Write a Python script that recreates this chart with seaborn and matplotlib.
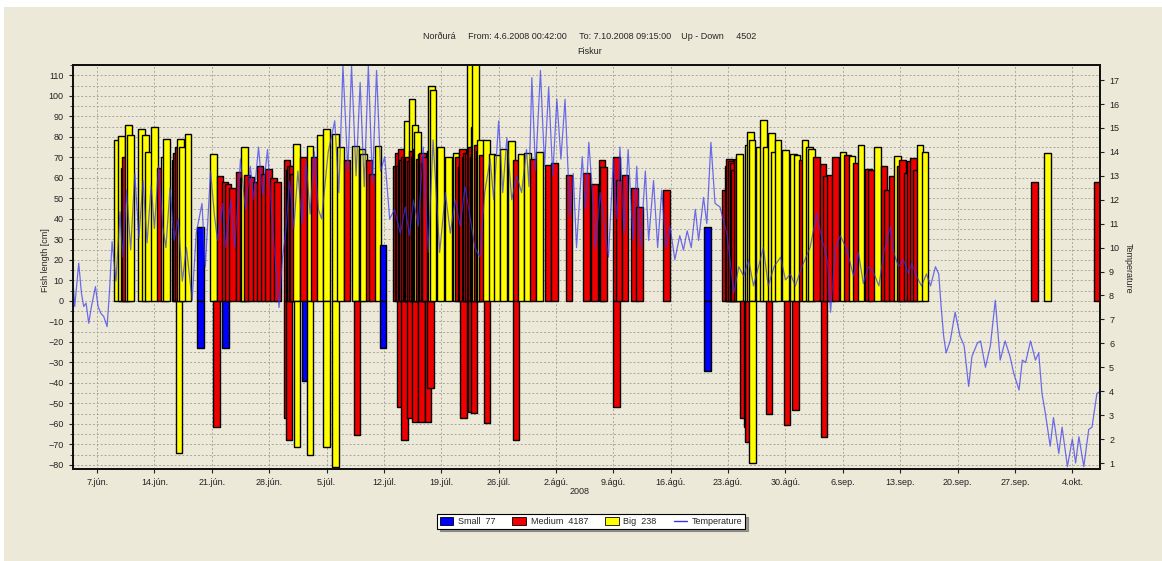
import pandas as pd
import matplotlib
matplotlib.use("Agg")
import matplotlib.pyplot as plt
import matplotlib.ticker as mticker
from matplotlib.patches import Patch, Rectangle
from matplotlib.lines import Line2D
import seaborn as sns

# dagar frá 1. júní 2008, lengd í cm (neikvætt = niður)
start = pd.Timestamp("2008-06-01")

small_day = [18.6, 18.6, 21.7, 31.4, 40.9, 40.9, 80.5, 80.5]
small_len = [36, -23, -23, -39, 27, -23, 36, -34]

medium_day = [9.3, 13.7, 15.5, 15.9, 21.0, 21.6, 22.5, 23.3, 24.3, 24.8, 25.9, 26.9, 28.0, 29.2, 29.6, 31.2, 32.5,
              36.5, 39.2, 39.6, 42.5, 43.3, 43.7, 44.0, 45.9, 50.4, 50.9, 51.1, 57.1, 59.2, 61.0, 61.8, 63.6, 65.7,
              66.7, 67.6, 67.8, 69.4, 69.7, 70.4, 71.6, 72.2, 75.5, 82.6, 83.2, 83.6, 92.0, 93.8, 94.6, 95.0, 95.5, 96.1, 97.6,
              98.6, 100.1, 100.5, 102.0, 102.4, 103.0, 104.3, 104.8, 105.6, 120.4, 128.0,
              # þéttu svæðin
              9.5, 15.7, 22.0, 23.8, 25.4, 26.4, 27.5, 29.4, 29.8, 30.0, 42.7, 42.9, 43.1, 43.5, 43.9, 44.2, 44.5,
              44.7, 45.0, 45.3, 45.7, 46.1, 46.6, 50.1, 50.6, 51.0, 51.3, 51.7, 51.9, 52.4, 52.6, 53.0,
              83.0, 83.4, 83.8, 84.1, 104.0, 105.2, 105.9,
              # niður
              20.6, 29.2, 29.4, 37.7, 43.0, 43.5, 44.2, 44.8, 45.6, 46.4, 46.7, 50.7, 51.7, 52.0, 53.6, 57.1,
              69.4, 84.9, 85.3, 85.5, 88.0, 90.2, 91.2, 94.7]
medium_len = [65, 65, 68.6, 75, 60.8, 58, 54.8, 62.9, 61.3, 60.4, 65.7, 64.5, 58, 68.6, 66, 70.2, 70.2,
              68.6, 68.6, 62, 65.7, 68.6, 69, 70, 67, 65.3, 70, 72, 68.6, 69.4, 66.1, 67, 61.3, 62.4,
              57.2, 68.6, 65.3, 70.2, 58.8, 61.3, 54.8, 45.8, 54, 54, 69.1, 67, 68.6, 70.2, 66.6, 60.8, 61.3, 70.2, 71,
              67, 64.5, 63.7, 65.7, 54, 60.8, 68.6, 62.1, 69.9, 58, 58,
              70, 72, 57, 60, 58, 62, 60, 64, 66, 62, 72, 66, 74, 70, 75, 68, 73,
              70, 74, 69, 72, 70, 73, 70, 74, 68, 72, 75, 70, 76, 73, 71,
              66, 68, 64, 69, 66, 68, 64,
              -61.4, -57.3, -67.8, -65.4, -51.6, -67.8, -57.3, -58.9, -58.9, -58.9, -42.7, -57.3, -54, -54.8, -59.4, -67.8,
              -51.6, -57.3, -61.4, -68.6, -55.2, -60.5, -53.2, -66.5]

big_day = [8.5, 9.0, 9.8, 10.1, 11.4, 11.9, 12.3, 13.0, 14.2, 14.5, 16.2, 16.4, 17.1, 20.2, 24.0, 30.3, 32.0, 33.2, 34.0,
           35.1, 35.7, 37.5, 38.3, 38.5, 40.3, 43.9, 44.4, 44.8, 45.1, 45.5, 46.8, 47.0, 47.9, 48.9, 49.8, 51.5, 52.0,
           52.2, 52.8, 53.5, 54.2, 54.8, 55.6, 56.6, 57.7, 58.5, 60.0,
           84.4, 85.5, 85.7, 85.9, 86.8, 87.3, 87.7, 88.3, 88.6, 89.1, 90.0, 91.0, 91.4, 92.4, 92.9, 93.2, 97.0,
           98.1, 99.2, 101.2, 103.7, 106.4, 107.0, 122.0,
           16.0, 30.4, 32.0, 34.0, 35.1, 86.0]
big_len = [78.6, 80.3, 85.6, 80.8, 84, 80.8, 72.6, 84.8, 70.2, 78.8, 78.8, 74.8, 81.6, 71.8, 74.8, 76.7, 75.4, 80.8, 84,
           81.6, 74.8, 75.4, 74.2, 71.8, 75.4, 87.6, 98.6, 85.6, 82.4, 71.8, 104.6, 102.7, 74.8, 70.2, 72.2, 116, 84.8,
           116, 78.3, 78.6, 71.8, 71, 74.2, 77.8, 71.8, 72.2, 72.6,
           71.8, 75.9, 82.4, 78.3, 74.8, 88.1, 75.1, 81.9, 72.6, 78.3, 73.8, 71.8, 71, 78.3, 75.1, 74.2, 72.6,
           70.5, 75.9, 74.8, 70.5, 75.9, 72.6, 72.2,
           -74.3, -71.4, -75.1, -71.1, -80.8, -78.9]

temp_day = [3.05, 3.27, 3.76, 4.09, 4.37, 4.66, 4.98, 5.31, 5.8, 6.12, 6.45, 6.81, 7.22, 7.5, 7.83, 8.3, 8.8, 9.1,
            9.6, 10.1, 10.6, 11.1, 11.6, 12.1, 12.6, 13.0, 13.5, 14.0, 14.4, 14.9, 15.4, 15.9, 16.4, 16.9, 17.6, 18.1,
            18.8, 19.2, 19.85, 20.3, 20.7, 21.3, 21.7, 22.3, 22.8, 23.5, 24.1, 24.7, 25.1, 25.7, 26.2, 26.8, 27.4, 28.2,
            28.6, 29.0, 29.5, 30.0, 30.5, 31.0, 31.5, 32.0, 32.5, 33.0, 33.4, 34.2, 35.0, 35.5, 36.0, 36.6, 37.05, 37.6,
            38.1, 38.6, 39.1, 39.6, 40.1, 40.6, 41.1, 41.7, 42.3, 43.0, 43.6, 44.1, 44.6, 45.2, 45.8, 46.4, 47.0, 47.8,
            48.5, 49.1, 49.7, 50.3, 50.9, 51.5, 52.1, 52.7, 53.3, 53.96, 54.4, 55.0, 55.5, 56.0, 56.6, 57.2, 57.8, 58.4,
            58.7, 59.05, 59.5, 60.1, 60.6, 61.1, 61.6, 62.1, 62.6, 63.1, 63.7, 64.1, 64.5, 65.2, 65.6, 66.0, 66.5, 66.8,
            67.4, 68.4, 69.0, 69.4, 69.8, 70.3, 70.8, 71.4, 71.85, 72.3, 72.9, 73.3, 73.9, 74.4, 74.9, 75.4, 75.9, 76.5,
            77.1, 77.55, 78.0, 78.5, 79.0, 79.4, 80.0, 80.4, 80.9, 81.4, 82.0, 82.85, 83.7, 84.3, 84.9, 85.5, 86.1, 86.7,
            87.3, 87.9, 88.6, 89.4, 90.0, 90.6, 91.2, 92.0, 93.0, 93.8, 94.5, 95.1, 95.5, 96.1, 96.7, 97.5, 98.3, 98.9,
            99.5, 100.1, 100.7, 101.4, 102.0, 102.8, 103.2, 103.8, 104.4, 105.0, 105.4, 106.0, 106.6, 107.2, 107.7, 108.3,
            108.7, 109.0, 109.3, 109.6, 110.1, 110.7, 111.3, 111.8, 112.35, 112.75, 113.4, 113.8, 114.4, 115.0, 115.6,
            116.2, 116.8, 117.4, 117.85, 118.5, 118.9, 119.3, 119.9, 120.5, 120.9, 121.3, 121.7, 122.3, 122.7, 123.35,
            123.75, 124.4, 125.0, 125.4, 125.8, 126.4, 127.0, 127.4, 128.0, 128.4]
temp_val = [8.65, 7.54, 9.35, 8.1, 7.54, 7.68, 6.84, 7.54, 8.37, 7.54, 7.26, 7.12, 6.7, 8.1, 10.25, 8.6, 11.5, 9.6,
            12.4, 9.9, 13.1, 10.4, 12.8, 10.2, 12.6, 10.8, 13.4, 10.9, 10.0, 12.5, 10.3, 11.2, 8.6, 10.0, 7.8, 10.6,
            11.85, 9.2, 13.2, 11.4, 10.3, 11.85, 10.0, 12.0, 10.0, 13.7, 11.6, 13.4, 12.0, 14.2, 12.2, 14.1, 10.9, 7.5,
            9.5, 10.6, 12.8, 10.8, 13.2, 11.0, 13.6, 11.4, 14.0, 11.6, 11.2, 14.0, 15.3, 12.3, 17.6, 13.2, 17.6, 13.0,
            16.9, 12.55, 17.6, 12.7, 17.4, 13.2, 13.8, 11.2, 11.6, 10.6, 11.7, 10.5, 12.0, 10.9, 14.2, 9.8, 14.5, 9.8,
            12.3, 10.6, 12.0, 10.9, 12.55, 11.3, 10.0, 9.6, 12.3, 13.7, 12.0, 15.3, 12.3, 14.6, 12.0, 13.0, 12.3, 14.1,
            12.55, 17.1, 13.2, 17.4, 13.4, 16.7, 13.0, 16.2, 13.7, 16.2, 11.3, 13.1, 10.0, 13.8, 11.6, 14.4, 12.0, 10.0,
            12.3, 9.6, 13.7, 11.2, 14.2, 10.6, 14.1, 10.3, 13.4, 10.0, 13.2, 10.3, 12.8, 10.0, 12.4, 10.0, 10.9, 9.5,
            10.5, 9.9, 10.7, 10.0, 11.6, 10.3, 12.1, 11.0, 14.4, 11.85, 11.7, 10.6, 8.1, 9.2, 8.8, 9.5, 8.4, 9.2,
            10.0, 8.4, 9.2, 9.6, 8.65, 8.9, 8.4, 9.2, 10.0, 11.4, 10.3, 9.5, 7.3, 10.0, 10.5, 9.9, 8.8, 9.8,
            8.5, 9.2, 9.0, 8.4, 9.8, 10.9, 9.8, 9.2, 9.5, 8.9, 9.35, 8.8, 8.4, 8.9, 8.4, 9.2,
            8.9, 7.5, 6.3, 5.6, 6.1, 7.3, 6.3, 5.9, 4.2, 5.45, 6.0, 6.1, 5.0, 5.9, 7.8,
            5.3, 6.1, 5.45, 4.75, 4.05, 5.3, 5.2, 6.1, 5.3, 5.6, 3.9, 3.1, 1.7, 2.9, 1.4,
            2.5, 0.85, 2.0, 1.0, 2.1, 0.85, 2.4, 2.5, 3.9, 4.0]

tick_dates = pd.date_range("2008-06-07", periods=18, freq="7D")
month_names = {6: "jún", 7: "júl", 8: "ágú", 9: "sep", 10: "okt"}
legend_labels = ["Small  77", "Medium  4187", "Big  238", "Temperature"]

bg = "#ece9d8"
colors = {"Small": "#0000ff", "Medium": "#ee0000", "Big": "#ffff00"}

sns.set_style("ticks")
plt.rcParams["font.family"] = ["Liberation Sans", "DejaVu Sans"]

# setja saman í eina töflu, teiknað í tímaröð
fish = pd.concat([
    pd.DataFrame({"day": small_day, "length": small_len, "size": "Small"}),
    pd.DataFrame({"day": medium_day, "length": medium_len, "size": "Medium"}),
    pd.DataFrame({"day": big_day, "length": big_len, "size": "Big"}),
]).sort_values("day", kind="stable")
fish["date"] = start + pd.to_timedelta(fish["day"], unit="D")

temp = pd.DataFrame({"date": start + pd.to_timedelta(temp_day, unit="D"), "temp": temp_val})

fig = plt.figure(figsize=(11.62, 5.61), dpi=100)
fig.patch.set_facecolor("white")
fig.add_artist(Rectangle((4 / 1162, 0), 1, 1 - 7 / 561, transform=fig.transFigure,
                         facecolor=bg, edgecolor="none", zorder=-10))

ax = fig.add_axes([0.0626, 0.164, 0.8841, 0.7201])
ax.set_facecolor(bg)
ax.set_axisbelow(True)
ax.bar(fish["date"], fish["length"], width=0.8, color=fish["size"].map(colors),
       edgecolor="black", linewidth=1.0)

xmin = start + pd.Timedelta(days=3.029)
xmax = start + pd.Timedelta(days=128.385)
ax.set_ylim(-82, 115)
ax.set_yticks(range(-80, 111, 10))
ax.yaxis.set_minor_locator(mticker.MultipleLocator(5))
ax.set_xticks(tick_dates)
ax.set_xticklabels([f"{d.day}.{month_names[d.month]}." for d in tick_dates])
ax.tick_params(labelsize=6.5, length=3, width=0.8, colors="#222222")
ax.tick_params(which="minor", length=2)
grid_kw = dict(linestyle=(0, (2, 2)), color="#a9a79c", linewidth=0.7)
ax.grid(which="major", axis="both", **grid_kw)
ax.grid(which="minor", axis="y", **grid_kw)
for s in ax.spines.values():
    s.set_linewidth(1.4)
    s.set_color("#111111")

ax2 = ax.twinx()
sns.lineplot(data=temp, x="date", y="temp", ax=ax2, color="#3535f0", linewidth=0.9, alpha=0.7,
             estimator=None)
ax2.set_ylim(0.75, 17.63)
ax2.set_yticks(range(1, 18))
ax2.set_ylabel("")
ax2.set_xlabel("")
ax2.tick_params(labelsize=6.5, length=3, width=0.8, colors="#222222")
ax.set_xlim(xmin, xmax)
for s in ax2.spines.values():
    s.set_linewidth(1.4)
    s.set_color("#111111")

fig.text(590 / 1162, 1 - 36 / 561,
         "Norðurá     From: 4.6.2008 00:42:00     To: 7.10.2008 09:15:00    Up - Down     4502",
         ha="center", va="center", fontsize=6.5)
fig.text(590 / 1162, 1 - 52 / 561, "Fiskur", ha="center", va="center", fontsize=6.5)
fig.text(45 / 1162, 1 - 260 / 561, "Fish length [cm]", rotation=90, ha="center", va="center", fontsize=6.5)
fig.text(1128 / 1162, 1 - 268 / 561, "Temperature", rotation=270, ha="center", va="center", fontsize=6.5)
fig.text(580 / 1162, 1 - 491 / 561, "2008", ha="center", va="center", fontsize=6.5)

handles = [Patch(facecolor=colors["Small"], edgecolor="black", linewidth=0.6),
           Patch(facecolor=colors["Medium"], edgecolor="black", linewidth=0.6),
           Patch(facecolor=colors["Big"], edgecolor="black", linewidth=0.6),
           Line2D([], [], color="#3535f0", linewidth=1)]
leg = fig.legend(handles, legend_labels, loc="center", bbox_to_anchor=(591 / 1162, 1 - 521.5 / 561),
                 ncol=4, fontsize=6.5, frameon=True, fancybox=False, shadow=True, framealpha=1,
                 edgecolor="black", facecolor="white", handlelength=1.5, handleheight=0.9,
                 columnspacing=1.9, borderpad=0.3, handletextpad=0.5)
leg.get_frame().set_linewidth(0.8)

fig.savefig("out.png", dpi=100, facecolor=fig.get_facecolor())
